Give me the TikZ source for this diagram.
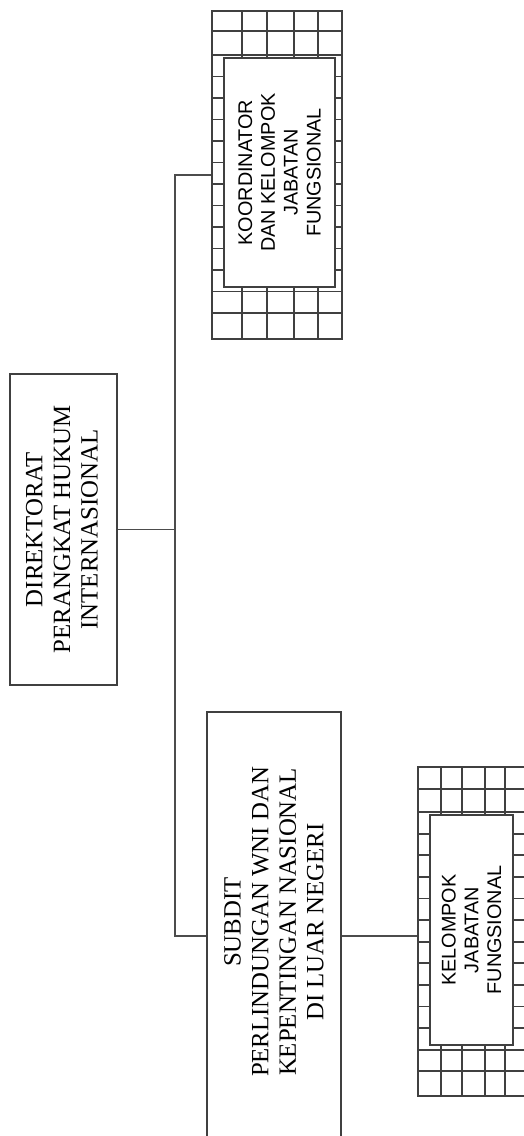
\documentclass[tikz,border=0pt]{standalone}
\usepackage{fontspec}
\setmainfont{Liberation Serif}
\newfontfamily\arialfont{Liberation Sans}
\begin{document}
\begin{tikzpicture}[x=0.5pt,y=-0.5pt,
  box/.style={draw=black!75, line width=1pt, fill=white, inner sep=0pt},
  gridline/.style={draw=black!75, line width=0.9pt},
  conn/.style={draw=black!70, line width=0.75pt},
  bigtext/.style={rotate=90, align=center, font=\fontsize{12.4pt}{13.8pt}\selectfont},
  smalltext/.style={rotate=90, align=center, font=\arialfont\fontsize{9.9pt}{11.4pt}\selectfont}]
\clip (0,0) rectangle (524,1136);
\fill[white] (0,0) rectangle (524,1136);

% Direktorat
\node[box, minimum width=53.5pt, minimum height=155.5pt] (dir) at (63.5,529.5) {};
\node[bigtext] (dirtext) at (62,529.5) {DIREKTORAT\\PERANGKAT HUKUM\\INTERNASIONAL};

% Koordinator (grid box)
\node[box, minimum width=65pt, minimum height=164pt] (koo) at (277,175) {};
\begin{scope}
  \clip (212,11) rectangle (342,339);
  \foreach \x in {242,267,294,318} \draw[gridline] (\x,11) -- (\x,339);
  \draw[gridline] (212,31) -- (342,31);
  \foreach \k in {0,...,12} \draw[gridline] (212,{55+21.5*\k}) -- (342,{55+21.5*\k});
\end{scope}
\draw[box, fill=none] (212,11) rectangle (342,339);
\node[box, smalltext, minimum width=114.5pt, minimum height=55.5pt] (kooin) at (279.5,172.5)
  {KOORDINATOR\\DAN KELOMPOK\\JABATAN\\FUNGSIONAL};

% Subdit
\node[box, minimum width=67pt, minimum height=224pt] (sub) at (274,936) {};
\node[bigtext] (subtext) at (274,922) {SUBDIT\\PERLINDUNGAN WNI DAN\\KEPENTINGAN NASIONAL\\DI LUAR NEGERI};

% Kelompok (grid box)
\node[box, minimum width=56pt, minimum height=164.5pt] (kel) at (474,931.5) {};
\begin{scope}
  \clip (418,767) rectangle (530,1096);
  \foreach \x in {441,462,485,505,527} \draw[gridline] (\x,767) -- (\x,1096);
  \draw[gridline] (418,789) -- (530,789);
  \foreach \k in {0,...,12} \draw[gridline] (418,{812+21.6*\k}) -- (530,{812+21.6*\k});
\end{scope}
\draw[box, fill=none] (418,767) rectangle (530,1096);
\node[box, smalltext, minimum width=115pt, minimum height=41.5pt] (kelin) at (471.5,930)
  {KELOMPOK\\JABATAN\\FUNGSIONAL};

% connectors
\coordinate (ttop) at (175,175);
\coordinate (tbot) at (175,936);
\draw[conn] (koo.west) -- (ttop) -- (tbot) -- (sub.west);
\draw[conn] (dir.east) -- (dir.east -| ttop);
\draw[conn] (sub.east) -- (sub.east -| kel.west);
\end{tikzpicture}
\end{document}
